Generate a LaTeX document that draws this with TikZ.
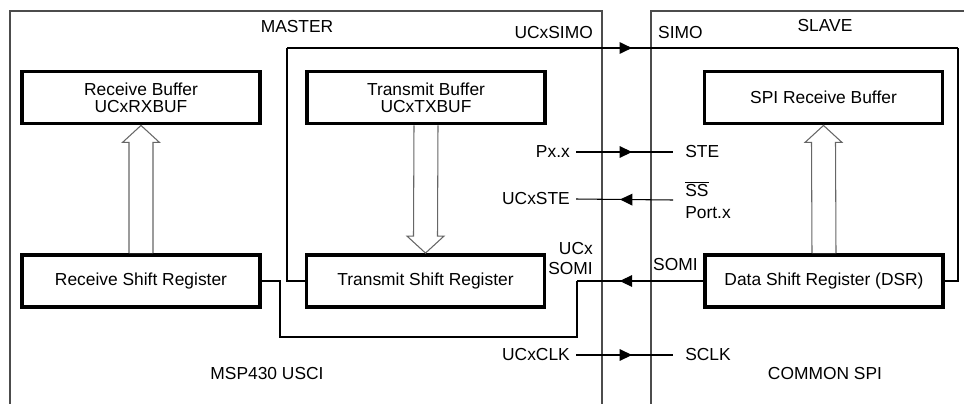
\documentclass[tikz,border=0pt]{standalone}
\usepackage{fontspec}
\setmainfont{Liberation Sans}
\usetikzlibrary{arrows.meta,calc,decorations.markings}

% hollow block arrow: from, to, head side (1 = up, -1 = down)
\newcommand{\fatarrow}[3]{%
  \draw[hollow] ($(#1)+(-12,0)$) -- ($(#2)+(-12,#3*17)$) -- ($(#2)+(-18.5,#3*17)$)
    -- (#2) -- ($(#2)+(18.5,#3*17)$) -- ($(#2)+(12,#3*17)$) -- ($(#1)+(12,0)$);}

\begin{document}
\begin{tikzpicture}[x=0.02cm,y=-0.02cm,
    every node/.style={font=\fontsize{9.9}{11.8}\selectfont},
    box/.style={draw,line width=2.2pt,minimum width=4.76cm,minimum height=1.04cm,
      align=center,font=\fontsize{9.9}{9.6}\selectfont},
    frame/.style={draw=black!70,line width=0.9pt},
    wire/.style={line width=0.6pt},
    hollow/.style={draw=black!60,line width=0.6pt,fill=white},
    rlbl/.style={anchor=west,inner xsep=6.8pt},
    midtip/.style={postaction={decorate},decoration={markings,
      mark=at position #1 with {\arrow{Triangle[length=7pt,width=6.6pt]}}}}]
  \useasboundingbox (0,0) rectangle (964,403);
  % master and slave frames
  \draw[frame] (10,404) -- (10,11) -- (602,11) -- (602,404);
  \draw[frame] (651,404) -- (651,11) -- (965,11);
  \node (master) at (297,26.5) {MASTER};
  \node (slave) at (825,26) {SLAVE};
  \node (usci) at (267,374) {MSP430 USCI};
  \node (spi) at (825,374) {COMMON SPI};
  % registers
  \node[box] (rxbuf) at (141,97.5) {Receive Buffer\\UCxRXBUF};
  \node[box] (txbuf) at (426,97.5) {Transmit Buffer\\UCxTXBUF};
  \node[box] (spibuf) at (823.5,97.5) {SPI Receive Buffer};
  \node[box] (rsr) at (141,281) {Receive Shift Register};
  \node[box] (tsr) at (425.5,281) {Transmit Shift Register};
  \node[box] (dsr) at (824,281) {Data Shift Register (DSR)};
  \fatarrow{rsr.north}{rxbuf.south}{1}
  \fatarrow{txbuf.south}{tsr.north}{-1}
  \fatarrow{dsr.north}{spibuf.south}{1}
  % pin names
  \node[anchor=east] (ucxsimo) at (599,33) {UCxSIMO};
  \node[anchor=west] (simo) at (652,33) {SIMO};
  \node[anchor=east] (pxx) at (576,152) {Px.x};
  \node[rlbl] (ste) at (673,152) {STE};
  \node[anchor=east] (ucxste) at (576,199) {UCxSTE};
  \node[rlbl,align=left] (ssport) at (673,200) {$\overline{\mbox{SS}}$\\[0.5pt]Port.x};
  \node[anchor=east,align=right] (ucxsomi) at (599,258.5) {UCx\\SOMI};
  \node[anchor=west] (somi) at (647,265) {SOMI};
  \node[anchor=east] (ucxclk) at (576,355) {UCxCLK};
  \node[rlbl] (sclk) at (673,355) {SCLK};
  % SIMO loop
  \coordinate (simoL) at (287,48);
  \coordinate (simoR) at (958,48);
  \draw[wire] (tsr.west) -| (simoL);
  \draw[wire,midtip=0.514] (simoL) -- (simoR);
  \draw[wire] (simoR) |- (dsr.east);
  % SOMI loop
  \coordinate (somiA) at (577,281);
  \coordinate (somiB) at (280,337);
  \draw[wire,midtip=0.661] (dsr.west) -- (somiA);
  \draw[wire] (somiA) |- (somiB) |- (rsr.east);
  % control lines
  \draw[wire,midtip=0.577] (pxx.east) -- (ste.west);
  \draw[wire,midtip=0.546] (ssport.west) -- (ucxste.east);
  \draw[wire,midtip=0.577] (ucxclk.east) -- (sclk.west);
\end{tikzpicture}
\end{document}
